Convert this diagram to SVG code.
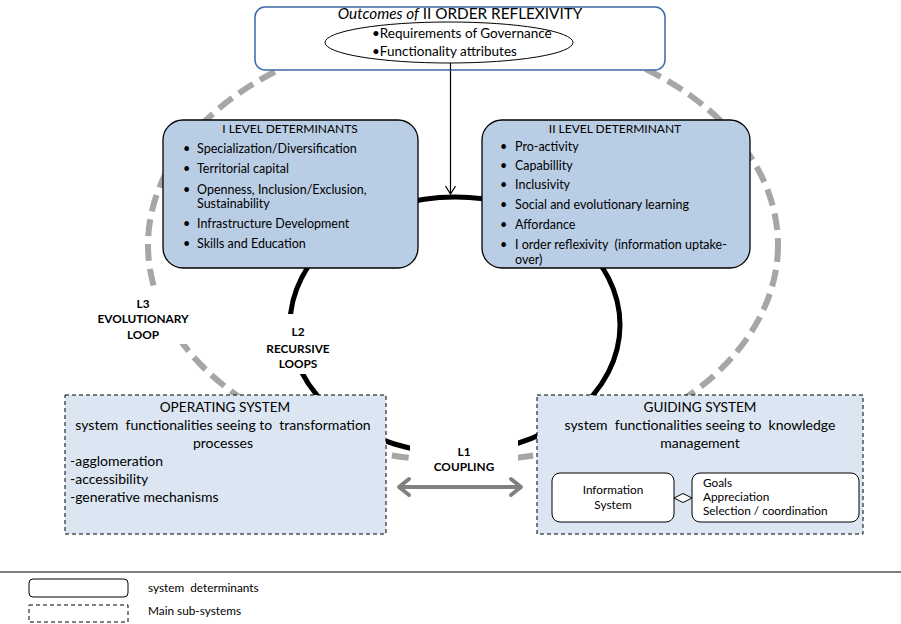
<svg xmlns="http://www.w3.org/2000/svg" width="901" height="624" viewBox="0 0 901 624">
<defs>
<style>
text{font-family:Lato,"Liberation Sans",sans-serif;fill:#000}
.t12{font-size:12.5px}
.ttl{font-size:12px}
.t10{font-size:11.8px}
.os{font-size:14px}
.hd{font-size:13.6px}
.b{font-weight:bold;font-size:11.8px}
.det{fill:#B9CDE5;stroke:#000;stroke-width:1.3}
.sub{fill:#DCE6F2;stroke:#000;stroke-width:1;stroke-dasharray:4 3}
.wbox{fill:#fff;stroke:#000;stroke-width:1}
.lab{fill:#fff;stroke:none}
</style>
</defs>
<rect width="901" height="624" fill="#fff"/>

<g id="connectors">
<ellipse id="L3-loop" cx="463" cy="245" rx="315" ry="216" fill="none" stroke="#A6A6A6" stroke-width="6" stroke-dasharray="17 8"/>
<ellipse id="L2-loop" cx="455" cy="325" rx="165" ry="128" fill="none" stroke="#000" stroke-width="5"/>
<g id="outcome-arrow" fill="none" stroke="#000" stroke-width="1.2">
<line x1="450.5" y1="63" x2="450.5" y2="194"/>
<path d="M445.5,186 L450.5,194 L455.5,186"/>
</g>
</g>

<g id="top-outcomes">
<rect x="255" y="7" width="410" height="63" rx="10" fill="#fff" stroke="#3B6AA8" stroke-width="1.5"/>
<text x="460" y="19" text-anchor="middle" style="font-size:15.3px"><tspan font-style="italic">Outcomes of</tspan> II ORDER REFLEXIVITY</text>
<ellipse cx="449" cy="42.5" rx="124" ry="20.5" fill="#fff" stroke="#000" stroke-width="1"/>
<text x="372" y="38" style="font-size:13.5px">•Requirements of Governance</text>
<text x="372" y="56" style="font-size:13.5px">•Functionality attributes</text>
<line x1="450.5" y1="63" x2="450.5" y2="70" stroke="#000" stroke-width="1.2"/>
</g>

<g id="level1">
<rect x="163" y="120" width="255" height="148" rx="20" class="det"/>
<text x="290" y="133" text-anchor="middle" class="ttl">I LEVEL DETERMINANTS</text>
<g class="t12">
<text x="183" y="153">•</text><text x="197" y="153">Specialization/Diversification</text>
<text x="183" y="173">•</text><text x="197" y="173">Territorial capital</text>
<text x="183" y="194">•</text><text x="197" y="194">Openness, Inclusion/Exclusion,</text>
<text x="197" y="208">Sustainability</text>
<text x="183" y="228">•</text><text x="197" y="228">Infrastructure Development</text>
<text x="183" y="248">•</text><text x="197" y="248">Skills and Education</text>
</g>
</g>

<g id="level2">
<rect x="482" y="120" width="268" height="148" rx="20" class="det"/>
<text x="615" y="133" text-anchor="middle" class="ttl">II LEVEL DETERMINANT</text>
<g class="t12">
<text x="500" y="151">•</text><text x="515" y="151">Pro-activity</text>
<text x="500" y="170">•</text><text x="515" y="170">Capabillity</text>
<text x="500" y="189">•</text><text x="515" y="189">Inclusivity</text>
<text x="500" y="209">•</text><text x="515" y="209">Social and evolutionary learning</text>
<text x="500" y="229">•</text><text x="515" y="229">Affordance</text>
<text x="500" y="249" xml:space="preserve">•</text><text x="515" y="249" xml:space="preserve">I order reflexivity  (information uptake-</text>
<text x="515" y="264">over)</text>
</g>
</g>

<g id="label-L3">
<rect x="98" y="292" width="94" height="52" class="lab"/>
<text x="143" y="308" text-anchor="middle" class="b">L3</text>
<text x="143" y="323" text-anchor="middle" class="b">EVOLUTIONARY</text>
<text x="143" y="339" text-anchor="middle" class="b">LOOP</text>
</g>

<g id="label-L2">
<rect x="260" y="314" width="78" height="60" class="lab"/>
<text x="298" y="336" text-anchor="middle" class="b">L2</text>
<text x="298" y="353" text-anchor="middle" class="b">RECURSIVE</text>
<text x="298" y="368" text-anchor="middle" class="b">LOOPS</text>
</g>

<g id="label-L1">
<rect x="410" y="425" width="108" height="52" class="lab"/>
<text x="464" y="456" text-anchor="middle" class="b">L1</text>
<text x="464" y="471" text-anchor="middle" class="b">COUPLING</text>
</g>

<g id="operating-system">
<rect x="65" y="395" width="321" height="139" class="sub"/>
<text x="225" y="412" text-anchor="middle" class="hd">OPERATING SYSTEM</text>
<text x="223" y="430" text-anchor="middle" class="os" xml:space="preserve">system  functionalities seeing to  transformation</text>
<text x="223" y="448" text-anchor="middle" class="os">processes</text>
<text x="70" y="466" class="os">-agglomeration</text>
<text x="70" y="484" class="os">-accessibility</text>
<text x="70" y="502" class="os">-generative mechanisms</text>
</g>

<g id="guiding-system">
<rect x="537" y="395" width="326" height="139" class="sub"/>
<text x="700" y="412" text-anchor="middle" class="hd">GUIDING SYSTEM</text>
<text x="700" y="430" text-anchor="middle" class="os" xml:space="preserve">system  functionalities seeing to  knowledge</text>
<text x="700" y="448" text-anchor="middle" class="os">management</text>
</g>

<g id="information-system">
<rect x="552" y="473" width="122" height="49" rx="8" class="wbox"/>
<text x="613" y="494" text-anchor="middle" class="t10">Information</text>
<text x="613" y="509" text-anchor="middle" class="t10">System</text>
</g>

<g id="goals">
<rect x="692" y="473" width="167" height="49" rx="8" class="wbox"/>
<text x="703" y="487" class="t10">Goals</text>
<text x="703" y="501" class="t10">Appreciation</text>
<text x="703" y="515" class="t10">Selection / coordination</text>
</g>

<g id="connectors-front">
<path id="info-goals" d="M674,498 L683,493.5 L692,498 L683,502.5 Z" fill="#fff" stroke="#000" stroke-width="1"/>
<g id="L1-coupling" stroke="#808080" stroke-width="4" fill="none" stroke-linecap="round" stroke-linejoin="round">
<line x1="400" y1="487" x2="520" y2="487"/>
<path d="M409,479 L399,487 L409,495"/>
<path d="M511,479 L521,487 L511,495"/>
</g>
</g>

<g id="legend">
<line x1="0" y1="572" x2="901" y2="572" stroke="#000" stroke-width="1"/>
<rect x="29" y="579" width="99" height="18" rx="4" class="wbox"/>
<text x="148" y="592" class="t10" xml:space="preserve">system  determinants</text>
<rect x="29" y="605" width="99" height="17" class="wbox" style="stroke-dasharray:4 3"/>
<text x="148" y="615" class="t10">Main sub-systems</text>
</g>
</svg>
